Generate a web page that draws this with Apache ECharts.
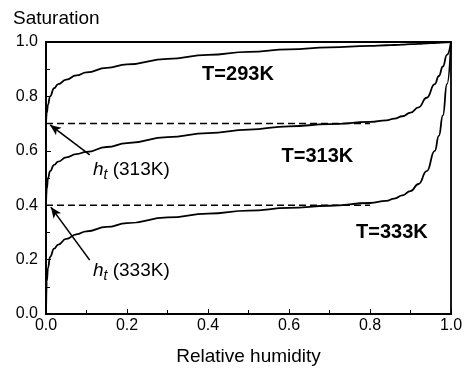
<!DOCTYPE html>
<html><head><meta charset="utf-8">
<script src="https://cdn.jsdelivr.net/npm/echarts@6/dist/echarts.min.js"></script>
<style>html,body{margin:0;padding:0;background:#fff}#c{width:471px;height:369px}</style>
</head><body><div id="c"></div>
<script>
const humidity = [0, 0.002, 0.005, 0.01, 0.02, 0.03, 0.05, 0.075, 0.1, 0.15, 0.2, 0.3, 0.4, 0.5, 0.6, 0.7, 0.8, 0.84, 0.86, 0.88, 0.9, 0.92, 0.94, 0.96, 0.97, 0.98, 0.99, 1.0];
const sat293 = [0.70, 0.74, 0.77, 0.80, 0.83, 0.845, 0.862, 0.877, 0.888, 0.905, 0.918, 0.938, 0.953, 0.964, 0.973, 0.98, 0.986, 0.988, 0.989, 0.990, 0.992, 0.993, 0.995, 0.996, 0.997, 0.998, 0.999, 1.0];
const sat313 = [0.40, 0.46, 0.50, 0.525, 0.548, 0.56, 0.576, 0.588, 0.596, 0.614, 0.628, 0.65, 0.665, 0.678, 0.69, 0.698, 0.706, 0.712, 0.718, 0.727, 0.74, 0.76, 0.795, 0.845, 0.875, 0.91, 0.953, 1.0];
const sat333 = [0.0, 0.12, 0.17, 0.21, 0.24, 0.255, 0.276, 0.293, 0.304, 0.32, 0.334, 0.355, 0.369, 0.38, 0.39, 0.398, 0.408, 0.416, 0.424, 0.436, 0.452, 0.478, 0.525, 0.60, 0.655, 0.73, 0.845, 1.0];
const htLevels = [0.7, 0.4];
const htEndX = [0.8, 0.8];
const tickLabels = ['0.0', '0.2', '0.4', '0.6', '0.8', '1.0'];
const curveLabels = [
  {text: 'T=293K', x: 0.474, y: 0.879},
  {text: 'T=313K', x: 0.67, y: 0.58},
  {text: 'T=333K', x: 0.854, y: 0.298}
];
const htLabels = [
  {temp: '313K', x: 0.116, y: 0.53, arrowFrom: [0.108, 0.585], arrowTo: [0.01, 0.695]},
  {temp: '333K', x: 0.116, y: 0.158, arrowFrom: [0.108, 0.198], arrowTo: [0.012, 0.393]}
];

const zip = (xs, ys) => xs.map((x, i) => [x, ys[i]]);
const font = 'Liberation Sans, Arial, sans-serif';
const curve = (name, ys) => ({
  name, type: 'line', data: zip(humidity, ys), showSymbol: false, smooth: 0.5, smoothMonotone: 'x',
  lineStyle: {color: '#000', width: 1.8}, silent: true, z: 3
});
const series = [curve('293K', sat293), curve('313K', sat313), curve('333K', sat333)];
htLevels.forEach((lv, i) => {
  series.push({type: 'line', data: [[0, lv], [htEndX[i], lv]], showSymbol: false,
    lineStyle: {color: '#000', width: 1.5, type: [7, 4]}, silent: true, z: 2});
});
series.push({
  type: 'scatter', data: curveLabels.map(c => ({value: [c.x, c.y], name: c.text})),
  symbolSize: 0, silent: true, itemStyle: {opacity: 1, color: '#000'},
  label: {show: true, opacity: 1, position: 'inside', formatter: p => p.name, color: '#000', fontSize: 20, fontWeight: 'bold', fontFamily: font}
});
series.push({
  type: 'scatter', data: htLabels.map(c => ({value: [c.x, c.y], name: c.temp})),
  symbolSize: 0, silent: true, itemStyle: {opacity: 1, color: '#000'},
  label: {show: true, opacity: 1, position: 'right', distance: 0, formatter: p => '{h|h}{t|t}{r| (' + p.name + ')}', color: '#000', fontFamily: font,
    rich: {
      h: {fontSize: 19, fontStyle: 'italic', fontFamily: font, color: '#000'},
      t: {fontSize: 14, fontStyle: 'italic', fontFamily: font, color: '#000', padding: [10, 0, 0, 0]},
      r: {fontSize: 19, fontFamily: font, color: '#000'}
    }}
});
series.push({
  type: 'line', data: [], silent: true,
  markLine: {silent: true, symbol: ['none', 'arrow'], symbolSize: [7, 11], label: {show: false},
    lineStyle: {color: '#000', width: 1.6, type: 'solid'},
    data: htLabels.map(c => [{coord: c.arrowFrom}, {coord: c.arrowTo}])}
});

const axisCommon = {
  type: 'value', min: 0, max: 1, interval: 0.2,
  axisLine: {show: true, lineStyle: {color: '#000', width: 1.8}},
  axisTick: {show: true, inside: true, length: 5, lineStyle: {color: '#000', width: 1}},
  minorTick: {show: true, splitNumber: 2, length: 4, lineStyle: {color: '#000', width: 1}},
  splitLine: {show: false},
  axisLabel: {color: '#000', fontSize: 16, fontFamily: font, formatter: v => tickLabels[Math.round(v / 0.2)]}
};
const opt = {
  animation: false,
  grid: {left: 46, right: 20, top: 42, bottom: 55, outerBoundsMode: 'none', containLabel: false,
    show: true, borderColor: '#000', borderWidth: 1.8, backgroundColor: 'transparent'},
  xAxis: Object.assign({}, axisCommon, {
    name: 'Relative humidity', nameLocation: 'middle', nameGap: 33,
    nameTextStyle: {color: '#000', fontSize: 19, fontFamily: font},
    axisLabel: Object.assign({}, axisCommon.axisLabel, {margin: 4})
  }),
  yAxis: Object.assign({}, axisCommon, {
    name: 'Saturation', nameLocation: 'end', nameGap: 14,
    nameTextStyle: {color: '#000', fontSize: 19, fontFamily: font, align: 'left', padding: [0, 0, 0, -33]},
    axisLabel: Object.assign({}, axisCommon.axisLabel, {margin: 8})
  }),
  series
};
const chart = echarts.init(document.getElementById('c'));
chart.setOption(opt);
</script></body></html>
